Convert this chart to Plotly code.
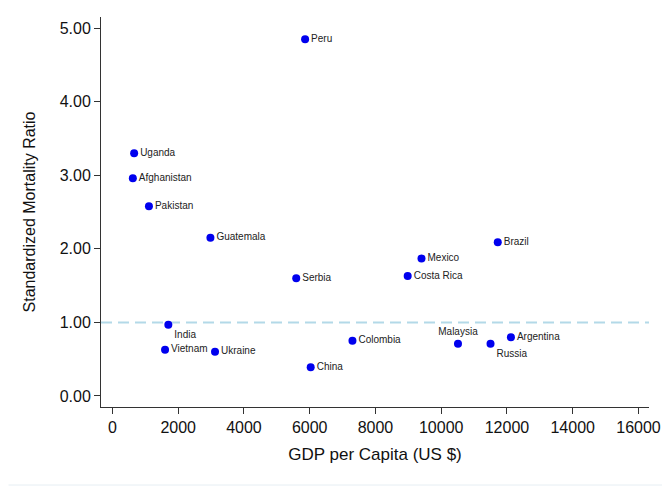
import plotly.graph_objects as go

countries = ["Peru", "Uganda", "Afghanistan", "Pakistan", "Guatemala", "Brazil",
             "Serbia", "India", "Vietnam", "Ukraine", "China", "Mexico",
             "Costa Rica", "Colombia", "Malaysia", "Russia", "Argentina"]
gdp = [5860, 660, 620, 1110, 2980, 11720, 5590, 1700, 1600, 3120, 6030, 9400,
       8980, 7300, 10510, 11500, 12120]
smr = [4.85, 3.30, 2.96, 2.58, 2.15, 2.09, 1.60, 0.97, 0.63, 0.60, 0.39, 1.87,
       1.63, 0.75, 0.71, 0.71, 0.80]
label_pos = ["middle right", "middle right", "middle right", "middle right",
             "middle right", "middle right", "middle right", "bottom right",
             "middle right", "middle right", "middle right", "middle right",
             "middle right", "middle right", "top center", "bottom right",
             "middle right"]
reference_smr = 1.0
x_ticks = [0, 2000, 4000, 6000, 8000, 10000, 12000, 14000, 16000]
y_ticks = [0, 1, 2, 3, 4, 5]

fig = go.Figure()
fig.add_trace(go.Scatter(
    x=gdp, y=smr, mode="markers+text", text=countries,
    textposition=label_pos,
    textfont=dict(family="Liberation Sans, Arial", size=10, color="#222222"),
    marker=dict(color="#0000EE", size=8),
    cliponaxis=False, showlegend=False, hoverinfo="skip"))

# page body has an 8px margin, so the figure is sized 8px smaller
fig.update_layout(
    width=662, height=479,
    margin=dict(l=93, r=18, t=9, b=80),
    paper_bgcolor="white", plot_bgcolor="white",
    font=dict(family="Liberation Sans, Arial", color="#111111"),
    xaxis=dict(range=[-348, 16320], tickvals=x_ticks, tickformat="d",
               showgrid=False, zeroline=False, showline=True, linecolor="#333333",
               linewidth=1, ticks="outside", ticklen=6, tickcolor="#333333",
               tickfont=dict(size=16),
               title=dict(text="GDP per Capita (US $)", font=dict(size=17), standoff=12)),
    yaxis=dict(range=[-0.15, 5.153], tickvals=y_ticks, tickformat=".2f",
               showgrid=False, zeroline=False, showline=True, linecolor="#333333",
               linewidth=1, ticks="outside", ticklen=6, tickcolor="#333333",
               tickfont=dict(size=16),
               title=dict(text="Standardized Mortality Ratio",
                          font=dict(size=16, family="Liberation Sans Narrow, Liberation Sans, Arial"),
                          standoff=20)),
    shapes=[
        dict(type="line", xref="paper", yref="paper",
             x0=(667 - 101) / 551, x1=(667 - 101) / 551, y0=-(485 - 407) / 390, y1=(407 - 8) / 390,
             line=dict(color="#e6eef3", width=1), layer="below"),
        dict(type="line", xref="paper", yref="paper",
             x0=-(101 - 8) / 551, x1=(667 - 101) / 551, y0=-(485 - 407) / 390, y1=-(485 - 407) / 390,
             line=dict(color="#e6eef3", width=1), layer="below"),
    ],
)

fig.add_hline(y=reference_smr, line=dict(color="#b3d9e8", width=2, dash="11px,6px"),
              layer="below")

fig.write_html("out.html")
